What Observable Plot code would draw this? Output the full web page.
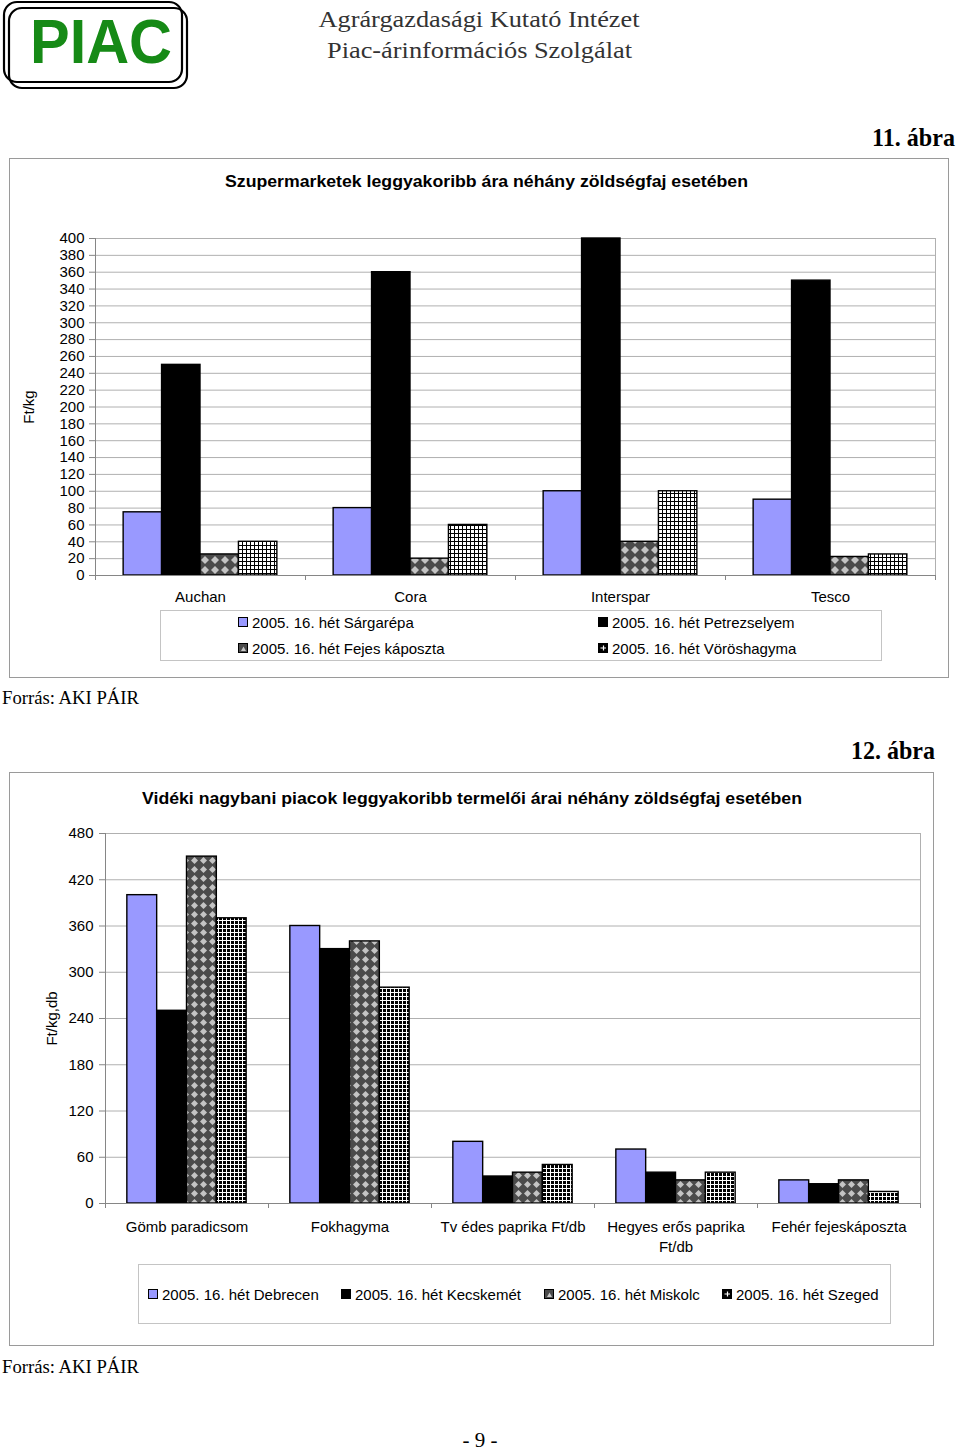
<!DOCTYPE html>
<html>
<head>
<meta charset="utf-8">
<script src="https://cdn.jsdelivr.net/npm/d3@7"></script>
<script src="https://cdn.jsdelivr.net/npm/@observablehq/plot@0.6"></script>
<style>
html, body { margin: 0; padding: 0; background: #fff; }
#page { position: relative; width: 960px; height: 1453px; overflow: hidden; font-family: "Liberation Sans", Arial, sans-serif; }
.legend { position: absolute; border: 1px solid #c4c4c4; box-sizing: border-box; }
.item { position: absolute; display: flex; align-items: center; height: 18px; white-space: nowrap; color: #000; }
.item svg { flex: none; margin-right: 4px; }
</style>
</head>
<body>
<div id="page">
<svg width="960" height="1453" style="position:absolute;left:0;top:0">
  <!-- logo -->
  <rect x="9" y="8" width="178" height="80" rx="13" fill="none" stroke="#000" stroke-width="2.2"/>
  <rect x="4" y="2" width="178" height="80" rx="13" fill="none" stroke="#000" stroke-width="2.2"/>
  <text x="30" y="63" font-family="Liberation Sans, Arial, sans-serif" font-weight="bold" font-size="63" fill="#168a16" textLength="142" lengthAdjust="spacingAndGlyphs">PIAC</text>
  <text x="479" y="27" text-anchor="middle" font-family="Liberation Serif, Times New Roman, serif" font-size="24" fill="#333" textLength="321" lengthAdjust="spacingAndGlyphs">Agrárgazdasági Kutató Intézet</text>
  <text x="479.5" y="58" text-anchor="middle" font-family="Liberation Serif, Times New Roman, serif" font-size="24" fill="#333" textLength="305" lengthAdjust="spacingAndGlyphs">Piac-árinformációs Szolgálat</text>
  <text x="955" y="146" text-anchor="end" font-family="Liberation Serif, Times New Roman, serif" font-weight="bold" font-size="25" fill="#000" textLength="83" lengthAdjust="spacingAndGlyphs">11. ábra</text>
  <rect x="9.5" y="158.5" width="939" height="519" fill="none" stroke="#9a9a9a"/>
  <text x="486.5" y="187" text-anchor="middle" font-family="Liberation Sans, Arial, sans-serif" font-weight="bold" font-size="17" fill="#000" textLength="523" lengthAdjust="spacingAndGlyphs">Szupermarketek leggyakoribb ára néhány zöldségfaj esetében</text>
  <text x="2" y="704" font-family="Liberation Serif, Times New Roman, serif" font-size="18" fill="#000" textLength="137" lengthAdjust="spacingAndGlyphs">Forrás: AKI PÁIR</text>
  <text x="935" y="759" text-anchor="end" font-family="Liberation Serif, Times New Roman, serif" font-weight="bold" font-size="25" fill="#000" textLength="84" lengthAdjust="spacingAndGlyphs">12. ábra</text>
  <rect x="9.5" y="772.5" width="924" height="573" fill="none" stroke="#9a9a9a"/>
  <text x="472" y="804" text-anchor="middle" font-family="Liberation Sans, Arial, sans-serif" font-weight="bold" font-size="17" fill="#000" textLength="660" lengthAdjust="spacingAndGlyphs">Vidéki nagybani piacok leggyakoribb termelői árai néhány zöldségfaj esetében</text>
  <text x="2" y="1373" font-family="Liberation Serif, Times New Roman, serif" font-size="18" fill="#000" textLength="137" lengthAdjust="spacingAndGlyphs">Forrás: AKI PÁIR</text>
  <text x="480" y="1447" text-anchor="middle" font-family="Liberation Serif, Times New Roman, serif" font-size="21" fill="#000">- 9 -</text>
</svg>
</div>
<script>
// ---------- Chart 1 data (11. ábra) ----------
const stores = ["Auchan", "Cora", "Interspar", "Tesco"];
const series1 = [
  "2005. 16. hét Sárgarépa",
  "2005. 16. hét Petrezselyem",
  "2005. 16. hét Fejes káposzta",
  "2005. 16. hét Vöröshagyma"
];
const sargarepa     = [75, 80, 100, 90];
const petrezselyem  = [250, 360, 400, 350];
const fejesKaposzta = [25, 20, 40, 22];
const voroshagyma   = [40, 60, 100, 25];
const yTicks1 = [0, 20, 40, 60, 80, 100, 120, 140, 160, 180, 200, 220, 240, 260, 280, 300, 320, 340, 360, 380, 400];

// ---------- Chart 2 data (12. ábra) ----------
const products = [
  "Gömb paradicsom",
  "Fokhagyma",
  "Tv édes paprika Ft/db",
  "Hegyes erős paprika\nFt/db",
  "Fehér fejeskáposzta"
];
const series2 = [
  "2005. 16. hét Debrecen",
  "2005. 16. hét Kecskemét",
  "2005. 16. hét Miskolc",
  "2005. 16. hét Szeged"
];
const debrecen  = [400, 360, 80, 70, 30];
const kecskemet = [250, 330, 35, 40, 25];
const miskolc   = [450, 340, 40, 30, 30];
const szeged    = [370, 280, 50, 40, 15];
const yTicks2 = [0, 60, 120, 180, 240, 300, 360, 420, 480];

const page = document.getElementById("page");

const patternDefs = `
  <pattern id="diamond1" patternUnits="userSpaceOnUse" width="10" height="10">
    <rect width="10" height="10" fill="#4b4b4b"/>
    <polygon points="5,1 9,5 5,9 1,5" fill="#c4c4c4"/>
  </pattern>
  <pattern id="grid1" patternUnits="userSpaceOnUse" width="4" height="4">
    <rect width="4" height="4" fill="#000"/>
    <rect x="1" y="1" width="3" height="3" fill="#fff"/>
  </pattern>
  <pattern id="diamond2" patternUnits="userSpaceOnUse" width="9" height="9">
    <rect width="9" height="9" fill="#4b4b4b"/>
    <polygon points="4.5,1 8,4.5 4.5,8 1,4.5" fill="#c4c4c4"/>
  </pattern>
  <pattern id="grid2" patternUnits="userSpaceOnUse" width="4" height="4">
    <rect width="4" height="4" fill="#fff"/>
    <rect x="1" y="1" width="3" height="3" fill="#000"/>
  </pattern>`;

function groupedChart(cfg) {
  const {cats, series, values, ticks, yMax, width, height, margins, yLabel, yLabelDx, labelPad, fills, fontSize} = cfg;
  const barW = 0.183, pad = (1 - series.length * barW) / 2;
  const data = cats.flatMap((c, i) => series.map((s, j) => ({cat: c, i, j, series: s, value: values[j][i]})));
  const svg = Plot.plot({
    width, height, ...margins,
    style: {fontFamily: "Liberation Sans, Arial, sans-serif", fontSize: fontSize + "px", color: "#000", background: "transparent", overflow: "visible"},
    x: {type: "linear", domain: [0, cats.length], axis: null},
    y: {domain: [0, yMax], axis: null},
    color: {type: "ordinal", domain: series, range: fills},
    marks: [
      Plot.gridY(ticks, {stroke: "#b0b0b0", strokeOpacity: 1}),
      Plot.ruleX([cats.length], {stroke: "#b0b0b0"}),
      Plot.rect(data, {
        x1: d => d.i + pad + d.j * barW,
        x2: d => d.i + pad + (d.j + 1) * barW,
        y1: 0, y2: "value",
        fill: "series", stroke: "#000", strokeWidth: 1.4
      }),
      Plot.ruleX([0], {stroke: "#868686"}),
      Plot.ruleY([0], {stroke: "#868686"}),
      Plot.axisY(ticks, {tickSize: 6, tickPadding: cfg.yPad, stroke: "#868686", label: null}),
      Plot.axisX(d3.range(cats.length + 1), {tickSize: 5, tickFormat: () => "", stroke: "#868686", label: null}),
      Plot.axisX(cats.map((c, i) => i + 0.5), {tickSize: 0, tickPadding: labelPad, tickFormat: v => cats[Math.floor(v)], label: null, lineHeight: 1.33}),
      Plot.text([yLabel], {text: d => d, frameAnchor: "left", textAnchor: "middle", dx: yLabelDx, rotate: -90})
    ]
  });
  d3.select(svg).insert("defs", ":first-child").html(patternDefs);
  return svg;
}

function place(el, left, top) {
  el.style.position = "absolute";
  el.style.left = left + "px";
  el.style.top = top + "px";
  page.appendChild(el);
}

// Chart 1
const chart1 = groupedChart({
  cats: stores, series: series1,
  values: [sargarepa, petrezselyem, fejesKaposzta, voroshagyma],
  ticks: yTicks1, yMax: 400,
  width: 938, height: 390,
  margins: {marginLeft: 85, marginRight: 13, marginTop: 13, marginBottom: 40},
  yLabel: "Ft/kg", yLabelDx: -66, labelPad: 12, yPad: 5, fontSize: 15,
  fills: ["#9999ff", "#000000", "url(#diamond1)", "url(#grid1)"]
});
place(chart1, 10, 225);

// Chart 2
const chart2 = groupedChart({
  cats: products, series: series2,
  values: [debrecen, kecskemet, miskolc, szeged],
  ticks: yTicks2, yMax: 480,
  width: 925, height: 460,
  margins: {marginLeft: 95, marginRight: 15, marginTop: 13, marginBottom: 77},
  yLabel: "Ft/kg,db", yLabelDx: -53, labelPad: 14, yPad: 6, fontSize: 15,
  fills: ["#9999ff", "#000000", "url(#diamond2)", "url(#grid2)"]
});
place(chart2, 10, 820);

// Legends
function swatch(kind) {
  let inner;
  if (kind === "blue") inner = `<rect x="0.5" y="0.5" width="9" height="9" fill="#9999ff" stroke="#000"/>`;
  else if (kind === "black") inner = `<rect x="0.5" y="0.5" width="9" height="9" fill="#000" stroke="#000"/>`;
  else if (kind === "diamond") inner = `<rect x="0.5" y="0.5" width="9" height="9" fill="#4b4b4b" stroke="#000"/><polygon points="3,8 5.5,3.5 8,8" fill="#c8c8c8"/>`;
  else inner = `<rect x="0.5" y="0.5" width="9" height="9" fill="#000" stroke="#000"/><path d="M5.5,2.5V7.5M2.5,5H8" stroke="#fff" stroke-width="1.2"/>`;
  return `<svg width="10" height="10">${inner}</svg>`;
}
const kinds = ["blue", "black", "diamond", "grid"];

function legend(box, series, slots, fontSize) {
  const b = document.createElement("div");
  b.className = "legend";
  b.style.left = box.left + "px"; b.style.top = box.top + "px";
  b.style.width = box.width + "px"; b.style.height = box.height + "px";
  page.appendChild(b);
  series.forEach((s, k) => {
    const it = document.createElement("div");
    it.className = "item";
    it.style.left = slots[k][0] + "px";
    it.style.top = (slots[k][1] - 9) + "px";
    it.style.fontSize = fontSize + "px";
    it.innerHTML = swatch(kinds[k]) + `<span>${s}</span>`;
    page.appendChild(it);
  });
}
legend({left: 160, top: 610, width: 722, height: 51}, series1,
  [[238, 622], [598, 622], [238, 648], [598, 648]], 15);
legend({left: 138, top: 1264, width: 753, height: 60}, series2,
  [[148, 1294], [341, 1294], [544, 1294], [722, 1294]], 15);
</script>
</body>
</html>
